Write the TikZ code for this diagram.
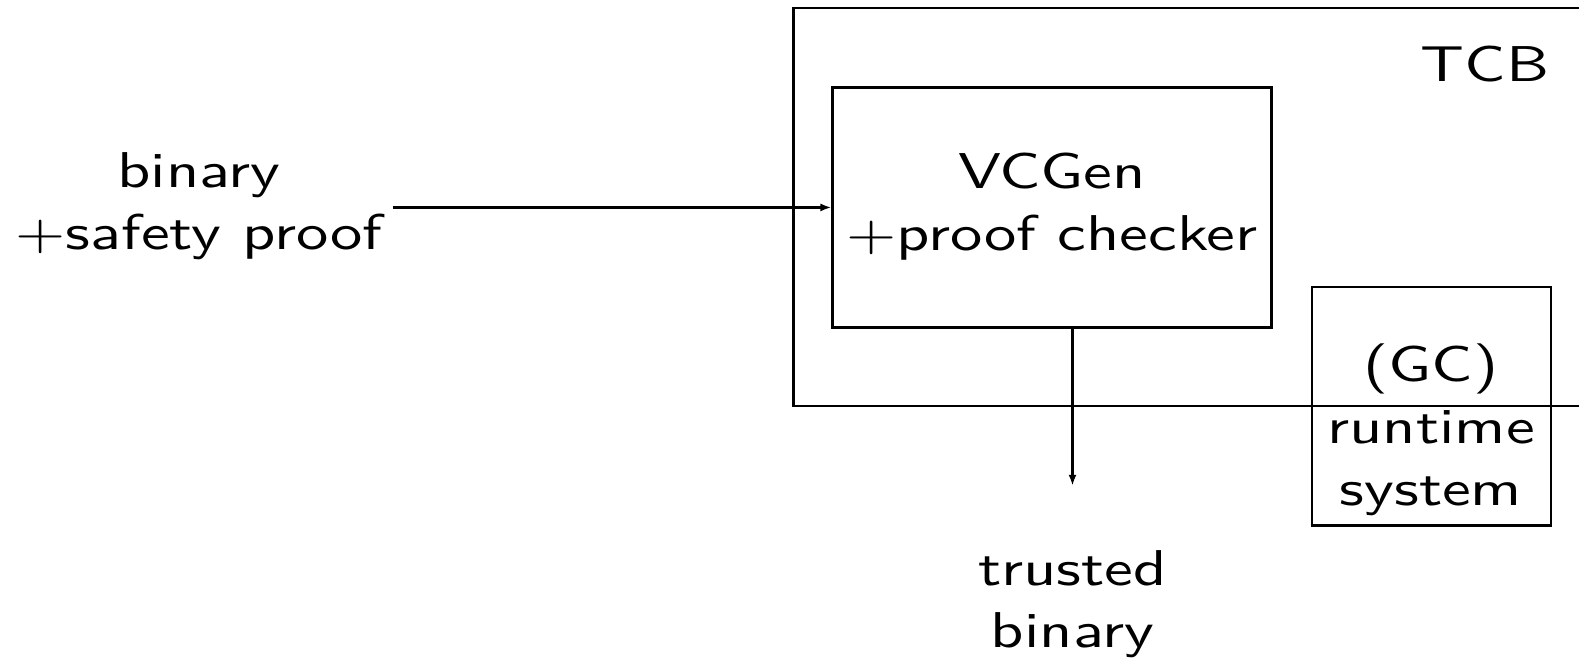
\documentclass[tikz,border=0pt]{standalone}
\usepackage{fontspec}
\setsansfont{lmsans10-regular.otf}
\usepackage{tikz}
\usetikzlibrary{arrows.meta, positioning, calc}
\tikzstyle{box} = [rectangle, draw=black, line width=1.5pt, inner sep=0pt]
\tikzstyle{txt} = [align=center, font=\fontsize{36.7}{45.3}\selectfont\sffamily, yscale=0.78, transform shape, inner sep=0.2cm]
\tikzstyle{arrow} = [line width=1.5pt, -{Latex[length=0.22cm, width=0.16cm]}]

\begin{document}
\begin{tikzpicture}
        \useasboundingbox (0,0) rectangle (31.58,-13.16);
        \clip (0,0) rectangle (31.58,-13.16);

        % Boxes
        \node (tcb) [box, minimum width=16.53cm, minimum height=7.96cm] at (24.135,-4.14) {};
        \node (vcgen) [box, minimum width=8.78cm, minimum height=4.794cm] at (21.046,-4.149) {};
        \node (gc) [box, minimum width=4.774cm, minimum height=4.774cm] at (28.629,-8.127) {};

        % Texts
        \node (tcbname) [txt] at (29.70,-1.29) {TCB};
        \node (vcgentext) [txt] at (21.04,-4.13) {VCGen\\+proof checker};
        \node (gctext) [txt] at (28.62,-8.6) {(GC)\\runtime\\system};
        \node (binary) [txt] at (3.98,-4.13) {binary\\+safety proof};
        \node (trusted) [txt] at (21.45,-12.09) {trusted\\binary};

        % Connections
        \draw [arrow] (binary.east |- vcgen.west) -- (vcgen.west);
        \draw [arrow, shorten >=1.14cm] (vcgen.south -| trusted.north) -- (trusted.north);
    \end{tikzpicture}
\end{document}
